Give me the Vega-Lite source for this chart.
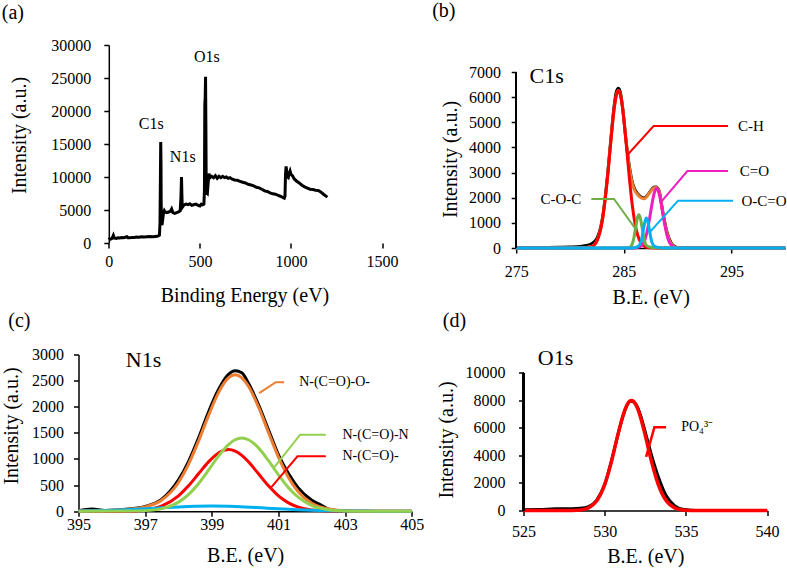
{
  "$schema": "https://vega.github.io/schema/vega-lite/v6.json",
  "padding": {"left": 0.5, "top": 1, "right": 0, "bottom": 0},
  "background": "white",
  "config": {
    "font": "Liberation Serif",
    "view": {"stroke": null},
    "axis": {"grid": false, "domainColor": "black", "tickColor": "black", "labelColor": "black", "titleColor": "black", "labelFont": "Liberation Serif", "titleFont": "Liberation Serif", "labelFontSize": 16, "titleFontSize": 20, "titleFontWeight": "normal", "tickSize": 5, "domainWidth": 1.5, "tickWidth": 1.5, "labelOverlap": false, "labelFlush": false, "tickCount": 20},
    "title": {"font": "Liberation Serif", "fontSize": 20, "fontWeight": "normal", "anchor": "start", "frame": "group", "color": "black"},
    "text": {"font": "Liberation Serif", "color": "black"}
  },
  "datasets": {
    "a": [
      {"x":0,"y":500},{"x":5,"y":650},{"x":10,"y":600},{"x":18,"y":700},{"x":25,"y":1150},{"x":30,"y":750},{"x":40,"y":700},{"x":50,"y":780},{"x":60,"y":750},{"x":70,"y":820},{"x":80,"y":800},{"x":90,"y":870},{"x":100,"y":950},{"x":105,"y":800},{"x":115,"y":780},{"x":130,"y":850},{"x":140,"y":820},{"x":150,"y":900},{"x":165,"y":880},{"x":180,"y":950},{"x":195,"y":920},{"x":210,"y":960},{"x":225,"y":1000},{"x":240,"y":950},{"x":255,"y":1000},{"x":270,"y":1050},{"x":278,"y":1200},{"x":281,"y":3000},{"x":283,"y":9000},{"x":285,"y":15300},{"x":286.5,"y":12000},{"x":287.5,"y":6000},{"x":289,"y":3000},{"x":292,"y":2700},{"x":296,"y":3600},{"x":300,"y":4500},{"x":305,"y":4900},{"x":310,"y":4700},{"x":318,"y":4600},{"x":328,"y":4700},{"x":338,"y":4800},{"x":345,"y":5150},{"x":352,"y":4600},{"x":362,"y":4500},{"x":372,"y":4600},{"x":383,"y":4700},{"x":392,"y":4900},{"x":396,"y":7000},{"x":399,"y":10000},{"x":401,"y":7500},{"x":403,"y":5400},{"x":408,"y":5600},{"x":415,"y":5800},{"x":425,"y":5900},{"x":435,"y":5800},{"x":445,"y":5950},{"x":455,"y":5700},{"x":465,"y":5800},{"x":478,"y":5900},{"x":490,"y":5700},{"x":500,"y":5600},{"x":508,"y":5900},{"x":515,"y":5800},{"x":522,"y":5900},{"x":525,"y":8000},{"x":527,"y":21000},{"x":529,"y":22000},{"x":531,"y":25200},{"x":533,"y":17000},{"x":534.5,"y":9000},{"x":537,"y":7600},{"x":541,"y":7500},{"x":545,"y":9000},{"x":550,"y":10500},{"x":556,"y":9900},{"x":565,"y":10100},{"x":575,"y":9900},{"x":585,"y":10200},{"x":595,"y":9800},{"x":605,"y":10100},{"x":615,"y":9900},{"x":625,"y":10100},{"x":635,"y":9900},{"x":645,"y":10000},{"x":655,"y":9800},{"x":665,"y":9900},{"x":675,"y":9700},{"x":690,"y":9550},{"x":705,"y":9500},{"x":720,"y":9350},{"x":735,"y":9200},{"x":750,"y":9100},{"x":765,"y":8900},{"x":780,"y":8800},{"x":795,"y":8650},{"x":810,"y":8450},{"x":825,"y":8350},{"x":840,"y":8150},{"x":855,"y":7900},{"x":870,"y":7800},{"x":885,"y":7600},{"x":900,"y":7450},{"x":915,"y":7400},{"x":930,"y":7200},{"x":945,"y":7050},{"x":955,"y":6900},{"x":963,"y":6800},{"x":967,"y":7100},{"x":970,"y":10500},{"x":973,"y":11600},{"x":976,"y":11000},{"x":980,"y":10000},{"x":985,"y":9900},{"x":990,"y":10500},{"x":995,"y":10900},{"x":1000,"y":10400},{"x":1008,"y":10200},{"x":1018,"y":9700},{"x":1030,"y":9400},{"x":1045,"y":9100},{"x":1060,"y":8750},{"x":1075,"y":8500},{"x":1090,"y":8300},{"x":1105,"y":8150},{"x":1120,"y":8100},{"x":1135,"y":8000},{"x":1150,"y":7950},{"x":1165,"y":7700},{"x":1180,"y":7350},{"x":1192,"y":7100},{"x":1200,"y":6950}
    ],
    "aLab": [
      {"x":165,"y":17220,"t":"C1s"},{"x":335,"y":12220,"t":"N1s"},{"x":468,"y":27470,"t":"O1s"}
    ],
    "b": [
      {"s":"raw","x":275,"y":20},{"s":"raw","x":277,"y":20},{"s":"raw","x":279,"y":30},{"s":"raw","x":280,"y":40},{"s":"raw","x":281,"y":60},{"s":"raw","x":281.5,"y":100},{"s":"raw","x":282,"y":170},{"s":"raw","x":282.5,"y":380},{"s":"raw","x":283,"y":1150},{"s":"raw","x":283.5,"y":2950},{"s":"raw","x":283.8,"y":4350},{"s":"raw","x":284.1,"y":5650},{"s":"raw","x":284.3,"y":6200},{"s":"raw","x":284.5,"y":6350},{"s":"raw","x":284.7,"y":6150},{"s":"raw","x":284.9,"y":5550},{"s":"raw","x":285.2,"y":4300},{"s":"raw","x":285.5,"y":3300},{"s":"raw","x":285.8,"y":2600},{"s":"raw","x":286.0,"y":2350},{"s":"raw","x":286.3,"y":2150},{"s":"raw","x":286.6,"y":2030},{"s":"raw","x":286.9,"y":1990},{"s":"raw","x":287.2,"y":2100},{"s":"raw","x":287.5,"y":2280},{"s":"raw","x":287.8,"y":2420},{"s":"raw","x":288.0,"y":2430},{"s":"raw","x":288.3,"y":2250},{"s":"raw","x":288.6,"y":1500},{"s":"raw","x":289.0,"y":650},{"s":"raw","x":289.4,"y":200},{"s":"raw","x":289.8,"y":40},{"s":"raw","x":290.3,"y":0},{"s":"raw","x":295,"y":0},{"s":"raw","x":300,"y":0},
      {"s":"env","x":275,"y":0},{"s":"env","x":281,"y":5},{"s":"env","x":282,"y":60},{"s":"env","x":282.5,"y":290},{"s":"env","x":283,"y":1090},{"s":"env","x":283.5,"y":2880},{"s":"env","x":283.8,"y":4280},{"s":"env","x":284.1,"y":5530},{"s":"env","x":284.3,"y":6070},{"s":"env","x":284.5,"y":6260},{"s":"env","x":284.7,"y":6070},{"s":"env","x":284.9,"y":5540},{"s":"env","x":285.2,"y":4300},{"s":"env","x":285.5,"y":3250},{"s":"env","x":285.8,"y":2550},{"s":"env","x":286.0,"y":2300},{"s":"env","x":286.3,"y":2120},{"s":"env","x":286.6,"y":2000},{"s":"env","x":286.9,"y":1960},{"s":"env","x":287.2,"y":2080},{"s":"env","x":287.5,"y":2260},{"s":"env","x":287.8,"y":2390},{"s":"env","x":288.0,"y":2410},{"s":"env","x":288.3,"y":2230},{"s":"env","x":288.6,"y":1480},{"s":"env","x":289.0,"y":620},{"s":"env","x":289.4,"y":170},{"s":"env","x":289.8,"y":30},{"s":"env","x":290.3,"y":0},{"s":"env","x":300,"y":0},
      {"s":"ch","x":275,"y":0},{"s":"ch","x":281,"y":0},{"s":"ch","x":281.5,"y":6},{"s":"ch","x":282,"y":47},{"s":"ch","x":282.5,"y":274},{"s":"ch","x":283,"y":1078},{"s":"ch","x":283.5,"y":2862},{"s":"ch","x":283.8,"y":4263},{"s":"ch","x":284.1,"y":5516},{"s":"ch","x":284.3,"y":6058},{"s":"ch","x":284.5,"y":6250},{"s":"ch","x":284.7,"y":6058},{"s":"ch","x":284.9,"y":5516},{"s":"ch","x":285.2,"y":4263},{"s":"ch","x":285.5,"y":2862},{"s":"ch","x":285.8,"y":1669},{"s":"ch","x":286.0,"y":1078},{"s":"ch","x":286.3,"y":497},{"s":"ch","x":286.6,"y":199},{"s":"ch","x":287.0,"y":47},{"s":"ch","x":287.5,"y":6},{"s":"ch","x":288,"y":0},{"s":"ch","x":300,"y":0},
      {"s":"co","x":275,"y":0},{"s":"co","x":285.5,"y":0},{"s":"co","x":286.2,"y":8},{"s":"co","x":286.7,"y":117},{"s":"co","x":287.1,"y":533},{"s":"co","x":287.4,"y":1179},{"s":"co","x":287.7,"y":1935},{"s":"co","x":287.9,"y":2283},{"s":"co","x":288.05,"y":2370},{"s":"co","x":288.2,"y":2283},{"s":"co","x":288.4,"y":1935},{"s":"co","x":288.7,"y":1179},{"s":"co","x":289.0,"y":533},{"s":"co","x":289.4,"y":117},{"s":"co","x":289.9,"y":8},{"s":"co","x":290.5,"y":0},{"s":"co","x":300,"y":0},
      {"s":"coc","x":275,"y":0},{"s":"coc","x":284.5,"y":0},{"s":"coc","x":285.4,"y":5},{"s":"coc","x":285.7,"y":87},{"s":"coc","x":285.9,"y":329},{"s":"coc","x":286.1,"y":801},{"s":"coc","x":286.25,"y":1165},{"s":"coc","x":286.4,"y":1320},{"s":"coc","x":286.55,"y":1165},{"s":"coc","x":286.7,"y":801},{"s":"coc","x":286.9,"y":329},{"s":"coc","x":287.1,"y":100},{"s":"coc","x":287.4,"y":40},{"s":"coc","x":287.8,"y":15},{"s":"coc","x":288.5,"y":0},{"s":"coc","x":300,"y":0},
      {"s":"occo","x":275,"y":0},{"s":"occo","x":285.5,"y":0},{"s":"occo","x":286.0,"y":10},{"s":"occo","x":286.3,"y":60},{"s":"occo","x":286.6,"y":243},{"s":"occo","x":286.8,"y":671},{"s":"occo","x":286.95,"y":1031},{"s":"occo","x":287.1,"y":1190},{"s":"occo","x":287.25,"y":1031},{"s":"occo","x":287.4,"y":671},{"s":"occo","x":287.6,"y":243},{"s":"occo","x":287.9,"y":60},{"s":"occo","x":288.3,"y":15},{"s":"occo","x":289,"y":0},{"s":"occo","x":300,"y":0}
    ],
    "bLead": [
      {"s":"ch","o":1,"x":294.69,"y":4852},{"s":"ch","o":2,"x":287.77,"y":4852},{"s":"ch","o":3,"x":285.33,"y":3699},
      {"s":"co","o":1,"x":294.69,"y":3062},{"s":"co","o":2,"x":290.91,"y":3062},{"s":"co","o":3,"x":288.49,"y":1842},
      {"s":"occo","o":1,"x":295.16,"y":1882},{"s":"occo","o":2,"x":290.04,"y":1882},{"s":"occo","o":3,"x":287.4,"y":623},
      {"s":"coc","o":1,"x":281.98,"y":1949},{"s":"coc","o":2,"x":284.09,"y":1949},{"s":"coc","o":3,"x":286.16,"y":716}
    ],
    "bLab": [
      {"side":"r","x":295.62,"y":4852,"t":"C-H"},{"side":"r","x":295.78,"y":3062,"t":"C=O"},{"side":"r","x":295.93,"y":1882,"t":"O-C=O"},{"side":"l","x":281.05,"y":1949,"t":"C-O-C"}
    ],
    "c": [
      {"s":"raw","x":395,"y":10},{"s":"raw","x":395.4,"y":40},{"s":"raw","x":395.8,"y":15},{"s":"raw","x":396.5,"y":40},{"s":"raw","x":397,"y":90},{"s":"raw","x":397.5,"y":230},{"s":"raw","x":398,"y":600},{"s":"raw","x":398.3,"y":950},{"s":"raw","x":398.6,"y":1400},{"s":"raw","x":398.9,"y":1900},{"s":"raw","x":399.2,"y":2330},{"s":"raw","x":399.5,"y":2620},{"s":"raw","x":399.7,"y":2690},{"s":"raw","x":399.9,"y":2650},{"s":"raw","x":400.1,"y":2450},{"s":"raw","x":400.4,"y":2040},{"s":"raw","x":400.7,"y":1560},{"s":"raw","x":401.0,"y":1080},{"s":"raw","x":401.3,"y":720},{"s":"raw","x":401.6,"y":440},{"s":"raw","x":402.0,"y":210},{"s":"raw","x":402.3,"y":110},{"s":"raw","x":402.5,"y":40},{"s":"raw","x":402.8,"y":10},{"s":"raw","x":403.2,"y":0},
      {"s":"env","x":395,"y":5},{"s":"env","x":395.5,"y":9},{"s":"env","x":396,"y":18},{"s":"env","x":396.5,"y":37},{"s":"env","x":397,"y":82},{"s":"env","x":397.5,"y":214},{"s":"env","x":398,"y":550},{"s":"env","x":398.3,"y":895},{"s":"env","x":398.6,"y":1340},{"s":"env","x":398.9,"y":1830},{"s":"env","x":399.2,"y":2270},{"s":"env","x":399.5,"y":2551},{"s":"env","x":399.7,"y":2610},{"s":"env","x":399.9,"y":2554},{"s":"env","x":400.1,"y":2392},{"s":"env","x":400.4,"y":1996},{"s":"env","x":400.7,"y":1509},{"s":"env","x":401.0,"y":1036},{"s":"env","x":401.3,"y":647},{"s":"env","x":401.6,"y":368},{"s":"env","x":402.0,"y":151},{"s":"env","x":402.5,"y":42},{"s":"env","x":403,"y":9},{"s":"env","x":403.5,"y":2},{"s":"env","x":404,"y":0},{"s":"env","x":405,"y":0},
      {"s":"nco","x":395,"y":0},{"s":"nco","x":396,"y":1},{"s":"nco","x":396.5,"y":5},{"s":"nco","x":397,"y":25},{"s":"nco","x":397.5,"y":100},{"s":"nco","x":398,"y":294},{"s":"nco","x":398.3,"y":485},{"s":"nco","x":398.6,"y":716},{"s":"nco","x":398.9,"y":945},{"s":"nco","x":399.2,"y":1116},{"s":"nco","x":399.5,"y":1180},{"s":"nco","x":399.7,"y":1151},{"s":"nco","x":399.9,"y":1069},{"s":"nco","x":400.1,"y":945},{"s":"nco","x":400.4,"y":716},{"s":"nco","x":400.7,"y":485},{"s":"nco","x":401.0,"y":294},{"s":"nco","x":401.3,"y":160},{"s":"nco","x":401.6,"y":78},{"s":"nco","x":402.0,"y":25},{"s":"nco","x":402.5,"y":5},{"s":"nco","x":403,"y":0},{"s":"nco","x":405,"y":0},
      {"s":"cyan","x":395,"y":5},{"s":"cyan","x":396,"y":17},{"s":"cyan","x":397,"y":46},{"s":"cyan","x":397.5,"y":64},{"s":"cyan","x":398,"y":82},{"s":"cyan","x":398.5,"y":95},{"s":"cyan","x":399,"y":100},{"s":"cyan","x":399.5,"y":95},{"s":"cyan","x":400,"y":82},{"s":"cyan","x":400.5,"y":64},{"s":"cyan","x":401,"y":46},{"s":"cyan","x":402,"y":17},{"s":"cyan","x":403,"y":4},{"s":"cyan","x":404,"y":1},{"s":"cyan","x":405,"y":0},
      {"s":"ncon","x":395,"y":0},{"s":"ncon","x":396.5,"y":2},{"s":"ncon","x":397,"y":11},{"s":"ncon","x":397.5,"y":50},{"s":"ncon","x":398,"y":174},{"s":"ncon","x":398.3,"y":319},{"s":"ncon","x":398.6,"y":527},{"s":"ncon","x":398.9,"y":785},{"s":"ncon","x":399.2,"y":1055},{"s":"ncon","x":399.5,"y":1276},{"s":"ncon","x":399.7,"y":1368},{"s":"ncon","x":399.9,"y":1400},{"s":"ncon","x":400.1,"y":1368},{"s":"ncon","x":400.4,"y":1212},{"s":"ncon","x":400.7,"y":967},{"s":"ncon","x":401.0,"y":696},{"s":"ncon","x":401.3,"y":451},{"s":"ncon","x":401.6,"y":263},{"s":"ncon","x":402.0,"y":109},{"s":"ncon","x":402.5,"y":28},{"s":"ncon","x":403,"y":5},{"s":"ncon","x":403.5,"y":0},{"s":"ncon","x":405,"y":0}
    ],
    "cLead": [
      {"s":"env","o":1,"x":401.17,"y":2471},{"s":"env","o":2,"x":400.92,"y":2471},{"s":"env","o":3,"x":400.42,"y":2260},
      {"s":"ncon","o":1,"x":402.42,"y":1465},{"s":"ncon","o":2,"x":401.65,"y":1465},{"s":"ncon","o":3,"x":400.87,"y":841},
      {"s":"nco","o":1,"x":402.42,"y":1051},{"s":"nco","o":2,"x":401.57,"y":1051},{"s":"nco","o":3,"x":400.77,"y":445}
    ],
    "cLab": [
      {"x":401.62,"y":2471,"t":"N-(C=O)-O-"},{"x":402.92,"y":1465,"t":"N-(C=O)-N"},{"x":402.92,"y":1051,"t":"N-(C=O)-"}
    ],
    "d": [
      {"s":"raw","x":525,"y":50},{"s":"raw","x":526,"y":80},{"s":"raw","x":527,"y":120},{"s":"raw","x":527.5,"y":130},{"s":"raw","x":528,"y":130},{"s":"raw","x":528.5,"y":160},{"s":"raw","x":529,"y":280},{"s":"raw","x":529.5,"y":740},{"s":"raw","x":530,"y":1900},{"s":"raw","x":530.4,"y":3550},{"s":"raw","x":530.8,"y":5450},{"s":"raw","x":531.1,"y":6750},{"s":"raw","x":531.4,"y":7700},{"s":"raw","x":531.6,"y":7950},{"s":"raw","x":531.9,"y":7750},{"s":"raw","x":532.2,"y":6950},{"s":"raw","x":532.5,"y":5700},{"s":"raw","x":532.9,"y":3950},{"s":"raw","x":533.3,"y":2450},{"s":"raw","x":533.8,"y":1050},{"s":"raw","x":534.3,"y":360},{"s":"raw","x":534.8,"y":90},{"s":"raw","x":535.3,"y":20},{"s":"raw","x":536,"y":0},{"s":"raw","x":540,"y":0},
      {"s":"po4","x":525,"y":0},{"s":"po4","x":528,"y":7},{"s":"po4","x":528.5,"y":41},{"s":"po4","x":529,"y":191},{"s":"po4","x":529.5,"y":684},{"s":"po4","x":530,"y":1877},{"s":"po4","x":530.4,"y":3480},{"s":"po4","x":530.8,"y":5440},{"s":"po4","x":531.1,"y":6800},{"s":"po4","x":531.4,"y":7729},{"s":"po4","x":531.65,"y":7990},{"s":"po4","x":531.9,"y":7729},{"s":"po4","x":532.2,"y":6800},{"s":"po4","x":532.5,"y":5440},{"s":"po4","x":532.9,"y":3480},{"s":"po4","x":533.3,"y":1877},{"s":"po4","x":533.8,"y":684},{"s":"po4","x":534.3,"y":191},{"s":"po4","x":534.8,"y":41},{"s":"po4","x":535.3,"y":7},{"s":"po4","x":536,"y":0},{"s":"po4","x":540,"y":0}
    ],
    "dLead": [
      {"s":"po4","o":1,"x":533.78,"y":6052},{"s":"po4","o":2,"x":533.06,"y":6052},{"s":"po4","o":3,"x":532.55,"y":3898}
    ]
  },
  "spacing": 2.5,
  "vconcat": [
    {
      "spacing": 33.7,
      "hconcat": [
        {
          "width": 303.6, "height": 198,
          "title": {"text": "(a)", "dx": -76.7, "offset": 14.5},
          "layer": [
            {
              "data": {"name": "a"},
              "mark": {"type": "line", "color": "black", "strokeWidth": 3},
              "encoding": {
                "x": {"field": "x", "type": "quantitative", "scale": {"domain": [-166.3, 1500], "nice": false, "zero": false}, "axis": {"values": [0, 500, 1000, 1500], "format": "d", "domain": false, "title": "Binding Energy (eV)", "titleX": 166, "labelPadding": 5.5, "titlePadding": 15.5}},
                "y": {"field": "y", "type": "quantitative", "scale": {"domain": [0, 30000], "nice": false}, "axis": {"values": [0, 5000, 10000, 15000, 20000, 25000, 30000], "format": "d", "offset": -30.3, "title": "Intensity (a.u.)", "titleY": 90, "labelPadding": 13, "titlePadding": 21.5}}
              }
            },
            {
              "mark": {"type": "rule", "color": "black", "strokeWidth": 1.5},
              "encoding": {"x": {"datum": 0, "type": "quantitative"}, "x2": {"datum": 1500}, "y": {"datum": 0, "type": "quantitative"}}
            },
            {
              "data": {"name": "aLab"},
              "mark": {"type": "text", "align": "left", "baseline": "alphabetic", "fontSize": 16},
              "encoding": {
                "x": {"field": "x", "type": "quantitative"},
                "y": {"field": "y", "type": "quantitative"},
                "text": {"field": "t"}
              }
            }
          ]
        },
        {
          "width": 269, "height": 203,
          "title": {"text": "(b)", "dx": -84, "offset": 24},
          "data": {"name": "b"},
          "layer": [
            {
              "transform": [{"filter": "datum.s == 'raw'"}],
              "mark": {"type": "line", "color": "black", "strokeWidth": 3, "interpolate": "monotone"},
              "encoding": {
                "x": {"field": "x", "type": "quantitative", "scale": {"domain": [275, 300], "nice": false, "zero": false}, "axis": {"values": [275, 285, 295], "format": "d", "title": "B.E. (eV)", "labelPadding": 10.5, "titlePadding": 8}},
                "y": {"field": "y", "type": "quantitative", "scale": {"domain": [0, 8073.9], "nice": false}, "axis": {"values": [0, 1000, 2000, 3000, 4000, 5000, 6000, 7000], "format": "d", "domain": false, "title": "Intensity (a.u.)", "titleY": 114, "labelPadding": 10.7, "titlePadding": 8.3}}
              }
            },
            {
              "transform": [{"filter": "datum.s == 'env'"}],
              "mark": {"type": "line", "color": "#ED7D31", "strokeWidth": 3, "interpolate": "monotone"},
              "encoding": {"x": {"field": "x", "type": "quantitative"}, "y": {"field": "y", "type": "quantitative"}}
            },
            {
              "transform": [{"filter": "datum.s == 'ch'"}],
              "mark": {"type": "line", "color": "#FF0000", "strokeWidth": 3, "interpolate": "monotone"},
              "encoding": {"x": {"field": "x", "type": "quantitative"}, "y": {"field": "y", "type": "quantitative"}}
            },
            {
              "transform": [{"filter": "datum.s == 'co'"}],
              "mark": {"type": "line", "color": "#EE1FC0", "strokeWidth": 3, "interpolate": "monotone"},
              "encoding": {"x": {"field": "x", "type": "quantitative"}, "y": {"field": "y", "type": "quantitative"}}
            },
            {
              "transform": [{"filter": "datum.s == 'coc'"}],
              "mark": {"type": "line", "color": "#70AD47", "strokeWidth": 3, "interpolate": "monotone"},
              "encoding": {"x": {"field": "x", "type": "quantitative"}, "y": {"field": "y", "type": "quantitative"}}
            },
            {
              "transform": [{"filter": "datum.s == 'occo'"}],
              "mark": {"type": "line", "color": "#00B0F0", "strokeWidth": 3, "interpolate": "monotone"},
              "encoding": {"x": {"field": "x", "type": "quantitative"}, "y": {"field": "y", "type": "quantitative"}}
            },
            {
              "mark": {"type": "rule", "color": "black", "strokeWidth": 1.5},
              "encoding": {"x": {"datum": 275, "type": "quantitative"}, "y": {"datum": 0, "type": "quantitative"}, "y2": {"datum": 7000}}
            },
            {
              "data": {"name": "bLead"},
              "mark": {"type": "line", "strokeWidth": 2},
              "encoding": {
                "x": {"field": "x", "type": "quantitative"},
                "y": {"field": "y", "type": "quantitative"},
                "order": {"field": "o", "type": "quantitative"},
                "color": {"field": "s", "type": "nominal", "scale": {"domain": ["ch", "co", "occo", "coc", "env", "ncon", "nco"], "range": ["#FF0000", "#EE1FC0", "#00B0F0", "#70AD47", "#ED7D31", "#92D050", "#FF0000"]}, "legend": null}
              }
            },
            {
              "data": {"name": "bLab"},
              "transform": [{"filter": "datum.side == 'r'"}],
              "mark": {"type": "text", "align": "left", "baseline": "middle", "fontSize": 15},
              "encoding": {"x": {"field": "x", "type": "quantitative"}, "y": {"field": "y", "type": "quantitative"}, "text": {"field": "t"}}
            },
            {
              "data": {"name": "bLab"},
              "transform": [{"filter": "datum.side == 'l'"}],
              "mark": {"type": "text", "align": "right", "baseline": "middle", "fontSize": 15},
              "encoding": {"x": {"field": "x", "type": "quantitative"}, "y": {"field": "y", "type": "quantitative"}, "text": {"field": "t"}}
            },
            {
              "data": {"values": [{"x": 276.24, "y": 6575, "t": "C1s"}]},
              "mark": {"type": "text", "align": "left", "baseline": "alphabetic", "fontSize": 22},
              "encoding": {"x": {"field": "x", "type": "quantitative"}, "y": {"field": "y", "type": "quantitative"}, "text": {"field": "t"}}
            }
          ]
        }
      ]
    },
    {
      "spacing": 12,
      "hconcat": [
        {
          "width": 333.3, "height": 156.7,
          "title": {"text": "(c)", "dx": -70.2, "offset": 15.3},
          "data": {"name": "c"},
          "layer": [
            {
              "transform": [{"filter": "datum.s == 'raw'"}],
              "mark": {"type": "line", "color": "black", "strokeWidth": 3, "interpolate": "monotone"},
              "encoding": {
                "x": {"field": "x", "type": "quantitative", "scale": {"domain": [395, 405], "nice": false, "zero": false}, "axis": {"values": [395, 397, 399, 401, 403, 405], "format": "d", "title": "B.E. (eV)", "labelPadding": 0, "titlePadding": 13}},
                "y": {"field": "y", "type": "quantitative", "scale": {"domain": [0, 3000], "nice": false}, "axis": {"values": [0, 500, 1000, 1500, 2000, 2500, 3000], "format": "d", "title": "Intensity (a.u.)", "titleY": 71, "labelPadding": 10, "titlePadding": 10.2}}
              }
            },
            {
              "transform": [{"filter": "datum.s == 'env'"}],
              "mark": {"type": "line", "color": "#ED7D31", "strokeWidth": 3, "interpolate": "monotone"},
              "encoding": {"x": {"field": "x", "type": "quantitative"}, "y": {"field": "y", "type": "quantitative"}}
            },
            {
              "transform": [{"filter": "datum.s == 'nco'"}],
              "mark": {"type": "line", "color": "#FF0000", "strokeWidth": 3, "interpolate": "monotone"},
              "encoding": {"x": {"field": "x", "type": "quantitative"}, "y": {"field": "y", "type": "quantitative"}}
            },
            {
              "transform": [{"filter": "datum.s == 'cyan'"}],
              "mark": {"type": "line", "color": "#00B0F0", "strokeWidth": 3, "interpolate": "monotone"},
              "encoding": {"x": {"field": "x", "type": "quantitative"}, "y": {"field": "y", "type": "quantitative"}}
            },
            {
              "transform": [{"filter": "datum.s == 'ncon'"}],
              "mark": {"type": "line", "color": "#92D050", "strokeWidth": 3, "interpolate": "monotone"},
              "encoding": {"x": {"field": "x", "type": "quantitative"}, "y": {"field": "y", "type": "quantitative"}}
            },
            {
              "data": {"name": "cLead"},
              "mark": {"type": "line", "strokeWidth": 2},
              "encoding": {
                "x": {"field": "x", "type": "quantitative"},
                "y": {"field": "y", "type": "quantitative"},
                "order": {"field": "o", "type": "quantitative"},
                "color": {"field": "s", "type": "nominal", "scale": {"domain": ["ch", "co", "occo", "coc", "env", "ncon", "nco"], "range": ["#FF0000", "#EE1FC0", "#00B0F0", "#70AD47", "#ED7D31", "#92D050", "#FF0000"]}, "legend": null}
              }
            },
            {
              "data": {"name": "cLab"},
              "mark": {"type": "text", "align": "left", "baseline": "middle", "fontSize": 14},
              "encoding": {"x": {"field": "x", "type": "quantitative"}, "y": {"field": "y", "type": "quantitative"}, "text": {"field": "t"}}
            },
            {
              "data": {"values": [{"x": 396.42, "y": 2752, "t": "N1s"}]},
              "mark": {"type": "text", "align": "left", "baseline": "alphabetic", "fontSize": 22},
              "encoding": {"x": {"field": "x", "type": "quantitative"}, "y": {"field": "y", "type": "quantitative"}, "text": {"field": "t"}}
            }
          ]
        },
        {
          "width": 243.6, "height": 156,
          "title": {"text": "(d)", "dx": -80.7, "offset": 16.9},
          "data": {"name": "d"},
          "layer": [
            {
              "transform": [{"filter": "datum.s == 'raw'"}],
              "mark": {"type": "line", "color": "black", "strokeWidth": 3, "interpolate": "monotone"},
              "encoding": {
                "x": {"field": "x", "type": "quantitative", "scale": {"domain": [525, 540], "nice": false, "zero": false}, "axis": {"values": [525, 530, 535, 540], "format": "d", "title": "B.E. (eV)", "labelPadding": 7.5, "titlePadding": 7.2}},
                "y": {"field": "y", "type": "quantitative", "scale": {"domain": [0, 11337], "nice": false}, "axis": {"values": [0, 2000, 4000, 6000, 8000, 10000], "format": "d", "domain": false, "title": "Intensity (a.u.)", "titleY": 85, "labelPadding": 13.4, "titlePadding": 8.3}}
              }
            },
            {
              "transform": [{"filter": "datum.s == 'po4'"}],
              "mark": {"type": "line", "color": "#FF0000", "strokeWidth": 3.5, "interpolate": "monotone"},
              "encoding": {"x": {"field": "x", "type": "quantitative"}, "y": {"field": "y", "type": "quantitative"}}
            },
            {
              "mark": {"type": "rule", "color": "black", "strokeWidth": 1.5},
              "encoding": {"x": {"datum": 525, "type": "quantitative"}, "y": {"datum": 0, "type": "quantitative"}, "y2": {"datum": 10000}}
            },
            {
              "data": {"name": "dLead"},
              "mark": {"type": "line", "strokeWidth": 2.5, "color": "#FF0000"},
              "encoding": {
                "x": {"field": "x", "type": "quantitative"},
                "y": {"field": "y", "type": "quantitative"},
                "order": {"field": "o", "type": "quantitative"}
              }
            },
            {
              "data": {"values": [{"x": 534.71, "y": 6052, "t": "PO₄³⁻"}]},
              "mark": {"type": "text", "align": "left", "baseline": "middle", "fontSize": 14},
              "encoding": {"x": {"field": "x", "type": "quantitative"}, "y": {"field": "y", "type": "quantitative"}, "text": {"field": "t"}}
            },
            {
              "data": {"values": [{"x": 525.88, "y": 10538, "t": "O1s"}]},
              "mark": {"type": "text", "align": "left", "baseline": "alphabetic", "fontSize": 22},
              "encoding": {"x": {"field": "x", "type": "quantitative"}, "y": {"field": "y", "type": "quantitative"}, "text": {"field": "t"}}
            }
          ]
        }
      ]
    }
  ]
}
